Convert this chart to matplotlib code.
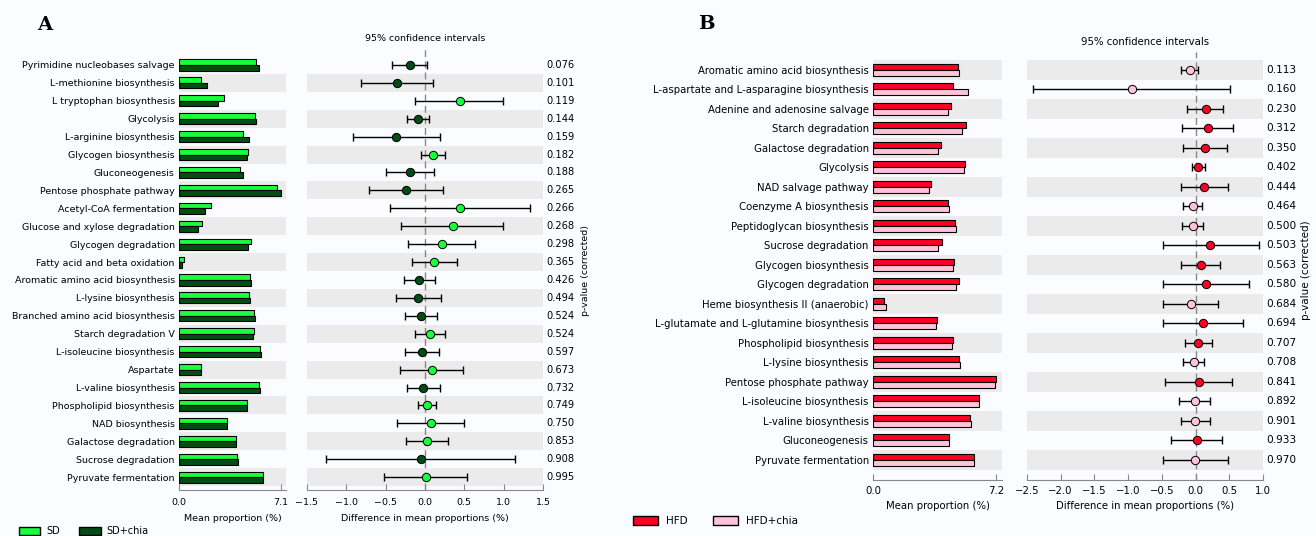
import matplotlib.pyplot as plt
from matplotlib.patches import Patch

plt.rcParams['font.family'] = ['DejaVu Sans']

# ---- panel A data (SD vs SD+chia) ----
a_names = ["Pyrimidine nucleobases salvage", "L-methionine biosynthesis", "L tryptophan biosynthesis",
           "Glycolysis", "L-arginine biosynthesis", "Glycogen biosynthesis", "Gluconeogenesis",
           "Pentose phosphate pathway", "Acetyl-CoA fermentation", "Glucose and xylose degradation",
           "Glycogen degradation", "Fatty acid and beta oxidation", "Aromatic amino acid biosynthesis",
           "L-lysine biosynthesis", "Branched amino acid biosynthesis", "Starch degradation V",
           "L-isoleucine biosynthesis", "Aspartate", "L-valine biosynthesis", "Phospholipid biosynthesis",
           "NAD biosynthesis", "Galactose degradation", "Sucrose degradation", "Pyruvate fermentation"]
a_sd = [5.36, 1.55, 3.13, 5.27, 4.48, 4.80, 4.24, 6.84, 2.25, 1.62, 5.01, 0.33,
        4.94, 4.85, 5.24, 5.24, 5.61, 1.55, 5.57, 4.71, 3.36, 3.94, 4.01, 5.87]
a_chia = [5.55, 1.93, 2.74, 5.36, 4.85, 4.71, 4.43, 7.10, 1.83, 1.30, 4.80, 0.19,
          5.01, 4.96, 5.31, 5.17, 5.68, 1.51, 5.64, 4.71, 3.32, 3.94, 4.08, 5.87]
a_diff = [-0.195, -0.36, 0.44, -0.093, -0.37, 0.106, -0.19, -0.24, 0.44, 0.35, 0.21, 0.12,
          -0.07, -0.085, -0.05, 0.064, -0.04, 0.085, -0.025, 0.02, 0.07, 0.03, -0.055, 0.01]
a_lo = [-0.42, -0.81, -0.13, -0.225, -0.92, -0.05, -0.49, -0.71, -0.44, -0.30, -0.21, -0.17,
        -0.27, -0.37, -0.25, -0.13, -0.26, -0.32, -0.23, -0.09, -0.36, -0.24, -1.26, -0.52]
a_hi = [0.03, 0.10, 0.99, 0.047, 0.19, 0.26, 0.12, 0.23, 1.33, 0.99, 0.63, 0.41,
        0.13, 0.20, 0.15, 0.25, 0.18, 0.48, 0.19, 0.14, 0.49, 0.29, 1.15, 0.54]
a_p = ["0.076", "0.101", "0.119", "0.144", "0.159", "0.182", "0.188", "0.265", "0.266", "0.268",
       "0.298", "0.365", "0.426", "0.494", "0.524", "0.524", "0.597", "0.673", "0.732", "0.749",
       "0.750", "0.853", "0.908", "0.995"]

# ---- panel B data (HFD vs HFD+chia) ----
b_names = ["Aromatic amino acid biosynthesis", "L-aspartate and L-asparagine biosynthesis",
           "Adenine and adenosine salvage", "Starch degradation", "Galactose degradation", "Glycolysis",
           "NAD salvage pathway", "Coenzyme A biosynthesis", "Peptidoglycan biosynthesis",
           "Sucrose degradation", "Glycogen biosynthesis", "Glycogen degradation",
           "Heme biosynthesis II (anaerobic)", "L-glutamate and L-glutamine biosynthesis",
           "Phospholipid biosynthesis", "L-lysine biosynthesis", "Pentose phosphate pathway",
           "L-isoleucine biosynthesis", "L-valine biosynthesis", "Gluconeogenesis", "Pyruvate fermentation"]
b_hfd = [4.98, 4.67, 4.59, 5.45, 3.98, 5.39, 3.39, 4.41, 4.84, 4.06, 4.78,
         5.02, 0.67, 3.78, 4.71, 5.06, 7.20, 6.20, 5.71, 4.45, 5.94]
b_chia = [5.06, 5.59, 4.43, 5.25, 3.84, 5.35, 3.27, 4.47, 4.88, 3.84, 4.71,
          4.86, 0.76, 3.67, 4.65, 5.10, 7.14, 6.22, 5.73, 4.45, 5.94]
b_diff = [-0.09, -0.95, 0.15, 0.18, 0.14, 0.04, 0.12, -0.045, -0.045, 0.22, 0.074,
          0.16, -0.074, 0.11, 0.035, -0.03, 0.05, -0.015, -0.015, 0.02, -0.01]
b_lo = [-0.21, -2.41, -0.12, -0.20, -0.18, -0.055, -0.22, -0.19, -0.20, -0.49, -0.21,
        -0.48, -0.48, -0.49, -0.16, -0.19, -0.45, -0.25, -0.22, -0.36, -0.49]
b_hi = [0.03, 0.51, 0.41, 0.55, 0.46, 0.14, 0.48, 0.10, 0.11, 0.94, 0.36,
        0.79, 0.33, 0.71, 0.24, 0.13, 0.545, 0.22, 0.21, 0.39, 0.48]
b_p = ["0.113", "0.160", "0.230", "0.312", "0.350", "0.402", "0.444", "0.464", "0.500", "0.503",
       "0.563", "0.580", "0.684", "0.694", "0.707", "0.708", "0.841", "0.892", "0.901", "0.933", "0.970"]

W, H = 1316, 536
fig = plt.figure(figsize=(W / 100, H / 100), dpi=100)
fig.patch.set_facecolor('#fafcff')

BAND = '#ebebeb'


def px_axes(x0, y0, x1, y1):
    # pixel box (top-left origin) -> axes
    return fig.add_axes([x0 / W, 1 - y1 / H, (x1 - x0) / W, (y1 - y0) / H])


def panel(names, v1, v2, diff, lo, hi, pvals, c1, c2, box_bar, box_ci,
          xmax_bar, tick_bar, ci_lim, ci_ticks, fs, pad_bottom, gray_even, tpad, lpad, title_pad):
    n = len(names)
    ys = [n - 1 - i for i in range(n)]
    ylim = (-0.5 - pad_bottom, n - 0.5)

    ax = px_axes(*box_bar)
    ax.set_facecolor('none')
    h = 0.31
    for i in range(n):
        if (i % 2 == 0) == gray_even:
            ax.axhspan(ys[i] - 0.5, ys[i] + 0.5, color=BAND, lw=0, zorder=0)
    ax.barh([y + h / 2 for y in ys], v1, height=h, color=c1, edgecolor='black', lw=0.8, zorder=2)
    ax.barh([y - h / 2 for y in ys], v2, height=h, color=c2, edgecolor='black', lw=0.8, zorder=2)
    ax.set_ylim(*ylim)
    ax.set_xlim(0, xmax_bar)
    ax.set_yticks(ys)
    ax.set_yticklabels(names, fontsize=fs)
    ax.tick_params(axis='y', length=0, pad=3)
    ax.set_xticks([0, tick_bar])
    ax.set_xticklabels(['0.0', f'{tick_bar:.1f}'], fontsize=fs)
    ax.tick_params(axis='x', direction='in', length=4, color='#888888', pad=tpad)
    for s in ['top', 'right', 'left']:
        ax.spines[s].set_visible(False)
    ax.spines['bottom'].set_color('#888888')
    ax.set_xlabel('Mean proportion (%)', fontsize=fs, labelpad=lpad)

    cx = px_axes(*box_ci)
    cx.set_facecolor('none')
    for i in range(n):
        if (i % 2 == 0) == gray_even:
            cx.axhspan(ys[i] - 0.5, ys[i] + 0.5, color=BAND, lw=0, zorder=0)
    cx.plot([0, 0], [ylim[0], n - 0.1], color='#888888', ls='--', lw=1, dashes=(5, 3),
            zorder=1, clip_on=False)
    for i in range(n):
        cx.errorbar(diff[i], ys[i], xerr=[[diff[i] - lo[i]], [hi[i] - diff[i]]],
                    fmt='none', ecolor='black', elinewidth=1, capsize=3, capthick=1, zorder=2)
        col = c1 if diff[i] > 0 else c2
        cx.plot(diff[i], ys[i], 'o', ms=6, mfc=col, mec='black', mew=0.7, zorder=3)
    cx.set_ylim(*ylim)
    cx.set_xlim(*ci_lim)
    cx.set_yticks([])
    cx.set_xticks(ci_ticks)
    cx.set_xticklabels([f'{t:.1f}'.replace('-', '\u2212') for t in ci_ticks], fontsize=fs)
    cx.tick_params(axis='x', direction='in', length=4, color='#888888', pad=tpad)
    for s in ['top', 'right', 'left']:
        cx.spines[s].set_visible(False)
    cx.spines['bottom'].set_color('#888888')
    cx.set_xlabel('Difference in mean proportions (%)', fontsize=fs, labelpad=lpad)
    cx.set_title('95% confidence intervals', fontsize=fs, pad=title_pad)
    for i in range(n):
        cx.text(1.015, ys[i], pvals[i], transform=cx.get_yaxis_transform(),
                va='center', ha='left', fontsize=fs + 0.3)
    return ax, cx


SD_C, CHIA_C = '#19ff3c', '#024d14'
HFD_C, HCHIA_C = '#ff0024', '#ffc4da'

panel(a_names, a_sd, a_chia, a_diff, a_lo, a_hi, a_p, SD_C, CHIA_C,
      (179, 56, 286, 490), (307, 56, 543, 490), 7.45, 7.1, (-1.5, 1.5),
      [-1.5, -1.0, -0.5, 0.0, 0.5, 1.0, 1.5], 6.8, 0.22, False, 6, 5, 11)
panel(b_names, b_hfd, b_chia, b_diff, b_lo, b_hi, b_p, HFD_C, HCHIA_C,
      (873, 60, 1002, 480), (1027, 60, 1263, 480), 7.57, 7.2, (-2.5, 1.0),
      [-2.5, -2.0, -1.5, -1.0, -0.5, 0.0, 0.5, 1.0], 7.3, 0.53, True, 4, 4, 11)

fig.text(585 / W, 1 - 270 / H, 'p-value (corrected)', rotation=90, va='center', ha='center', fontsize=6.8)
fig.text(1306 / W, 1 - 270 / H, 'p-value (corrected)', rotation=90, va='center', ha='center', fontsize=7.5)

fig.text(45 / W, 1 - 25 / H, 'A', fontsize=14, fontweight='bold', family='DejaVu Serif', va='center', ha='center')
fig.text(706 / W, 1 - 24 / H, 'B', fontsize=14, fontweight='bold', family='DejaVu Serif',
         va='center', ha='center')

fig.legend(handles=[Patch(fc=SD_C, ec='black', label='SD'), Patch(fc=CHIA_C, ec='black', label='SD+chia')],
           loc='center left', bbox_to_anchor=(10 / W, 1 - 531 / H), ncol=2, frameon=False,
           fontsize=7, handlelength=2.2, handleheight=0.9, columnspacing=2.0, handletextpad=0.6)
fig.legend(handles=[Patch(fc=HFD_C, ec='black', label='HFD'), Patch(fc=HCHIA_C, ec='black', label='HFD+chia')],
           loc='center left', bbox_to_anchor=(624 / W, 1 - 521 / H), ncol=2, frameon=False,
           fontsize=7.5, handlelength=2.4, handleheight=0.9, columnspacing=2.5, handletextpad=0.7)

fig.savefig('out.png', dpi=100, facecolor=fig.get_facecolor())
